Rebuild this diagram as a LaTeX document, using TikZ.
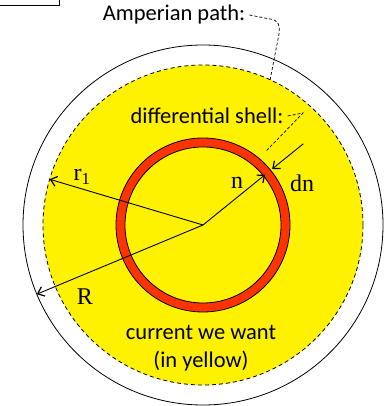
\documentclass[tikz,border=0pt]{standalone}
\usepackage{fontspec}
\setmainfont{Liberation Serif}
\newfontfamily\calibri{Carlito}
\usetikzlibrary{arrows.meta,calc}
\definecolor{shellred}{RGB}{255,51,0}

\begin{document}
\begin{tikzpicture}[x=1pt,y=1pt,
  txt/.style={font=\calibri\fontsize{22.5}{28}\selectfont,inner sep=0pt,align=center},
  sym/.style={font=\fontsize{24}{24}\selectfont,inner sep=0pt},
  leader/.style={black,line width=0.7pt,dash pattern=on 3pt off 2pt},
  radius/.style={black,line width=0.9pt,-{Straight Barb[length=6pt,width=10pt,line width=1.2pt]}}]
  \useasboundingbox (0,0) rectangle (387,406);
  \coordinate (C) at (203,181);
  % Draw the cut-off box in the corner
  \begin{scope}
    \clip (0,0) rectangle (387,406);
    \draw[black, line width=0.8pt] (-10,401) rectangle (59,420);
  \end{scope}
  % Draw the outer circle and the yellow region
  \draw[black, line width=0.8pt] (C) circle(180);
  \fill[yellow] (C) circle(160);
  \draw[black, line width=0.8pt, dash pattern=on 4pt off 3pt] (C) circle(160);
  % Draw the differential shell
  \fill[shellred, even odd rule] (C) circle(87) (C) circle(78);
  \draw[black, line width=0.8pt] (C) circle(87) (C) circle(78);
  % Draw the radii
  \draw[radius] (C) -- ($(C)+(163.4:160)$) coordinate (rtip);
  \draw[radius] (C) -- ($(C)+(202.6:180)$) coordinate (Rtip);
  \draw[radius] (C) -- ($(C)+(39:80)$) coordinate (ntip);
  \coordinate (dnstart) at ($(C)+(39:129)$);
  \draw[radius] (dnstart) -- ($(C)+(39:89)$) coordinate (dntip);
  % Labels
  \node[sym] (rlabel) at (82,229) {r\textsubscript{1}};
  \node[sym] (Rlabel) at (85,109) {R};
  \node[sym] (nlabel) at (237,223) {n};
  \node[sym] (dnlabel) at (302,223) {dn};
  \node[txt] (amp) at (174,391) {Amperian path:};
  \node[txt] (shell) at (207,290) {differential shell:};
  \node[txt] (want) at (201,58) {current we want\\(in yellow)};
  % Dashed leaders
  \coordinate (ampend) at ($(C)+(65.2:160)$);
  \coordinate (shellend) at ($(C)+(49.5:98)$);
  \draw[leader] ([xshift=4pt]amp.east) -- (270,387) .. controls (279,386) and (280,380) .. (279,372) -- (ampend);
  \draw[leader] ([xshift=4pt]shell.east) -- (303,293) -- (shellend);
\end{tikzpicture}
\end{document}
